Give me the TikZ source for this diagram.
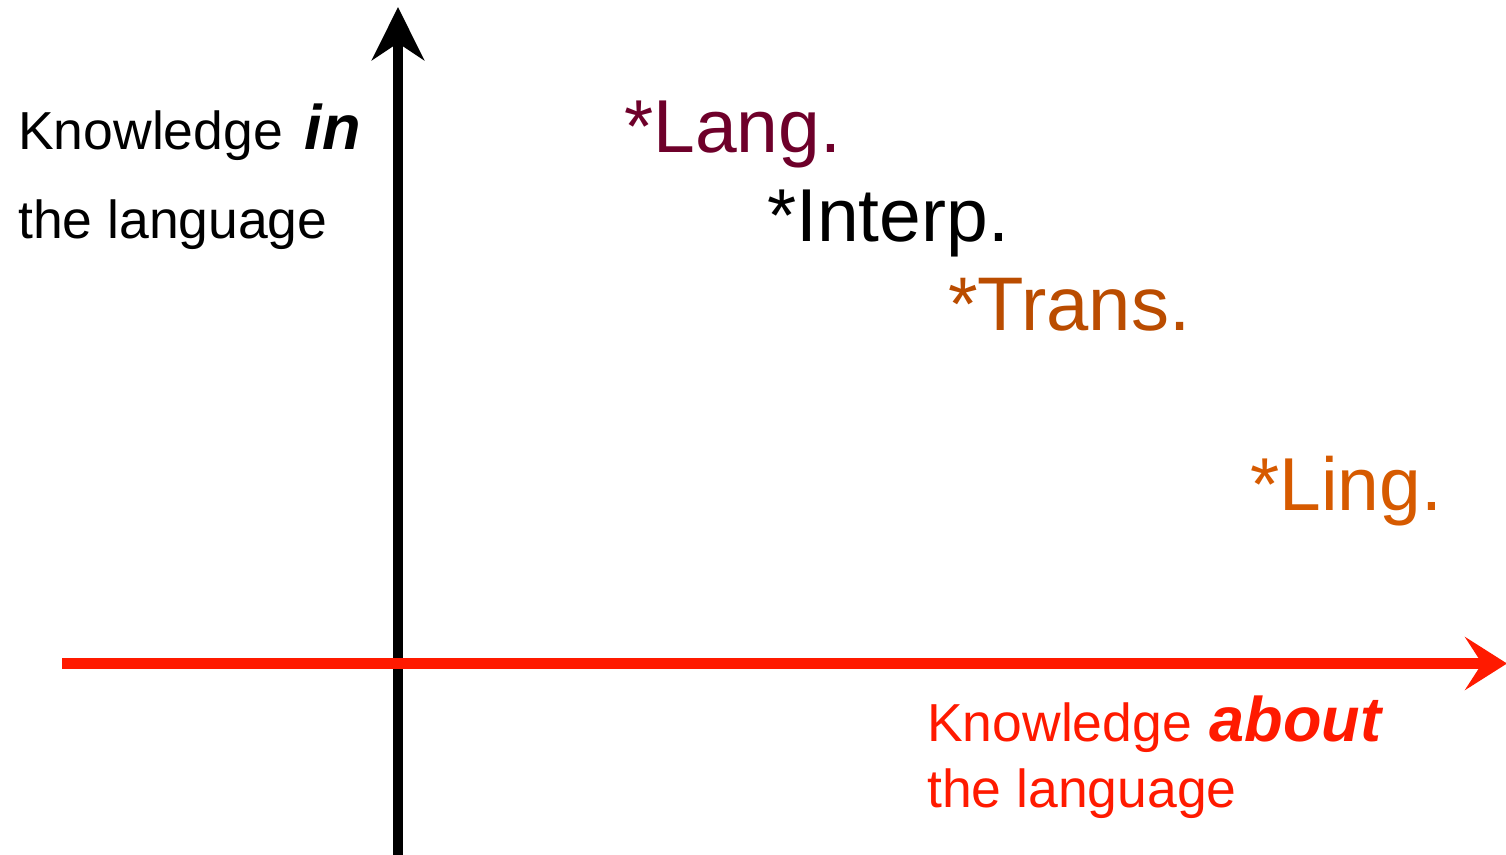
\documentclass[tikz,border=0pt]{standalone}
\usepackage{fontspec}
\setmainfont{Liberation Sans}
\usetikzlibrary{arrows.meta}
\definecolor{axred}{RGB}{255,26,0}
\definecolor{langc}{RGB}{110,0,42}
\definecolor{transc}{RGB}{186,76,0}
\definecolor{lingc}{RGB}{214,90,0}
\newcommand{\emphbig}[1]{{\fontsize{63}{70}\selectfont\bfseries\itshape #1}}
\tikzset{
  lbl/.style={anchor=base west, inner sep=0pt, font=\fontsize{53.5}{64}\selectfont},
  big/.style={anchor=base west, inner sep=0pt, font=\fontsize{75}{90}\selectfont},
}
\begin{document}
\begin{tikzpicture}[x=1pt,y=-1pt]
\useasboundingbox (0,0) rectangle (1506,854);
\coordinate (ybot) at (398,856);
\coordinate (ytop) at (398,7);
\coordinate (xl) at (62,663.5);
\coordinate (xr) at (1507,663.5);
\draw[line width=10pt, -{Stealth[length=53pt,width=52pt,inset=17pt]}] (ybot) -- (ytop);
\draw[axred, line width=11pt, -{Stealth[length=42pt,width=53pt,inset=17pt]}] (xl) -- (xr);
\node[lbl] (yl1) at (18,149) {Knowledge \hspace{7pt}\emphbig{in}};
\node[lbl] (yl2) at (18,238) {the language};
\node[big, langc] (lang) at (624,152) {*Lang.};
\node[big] (interp) at (767,241) {*Interp.};
\node[big, transc, font=\fontsize{76}{90}\selectfont] (trans) at (948,330) {*Trans.};
\node[big, lingc] (ling) at (1250,510) {*Ling.};
\node[lbl, axred] (xl1) at (927,741) {Knowledge \hspace{3pt}\emphbig{about}};
\node[lbl, axred] (xl2) at (927,807) {the language};
\end{tikzpicture}
\end{document}
